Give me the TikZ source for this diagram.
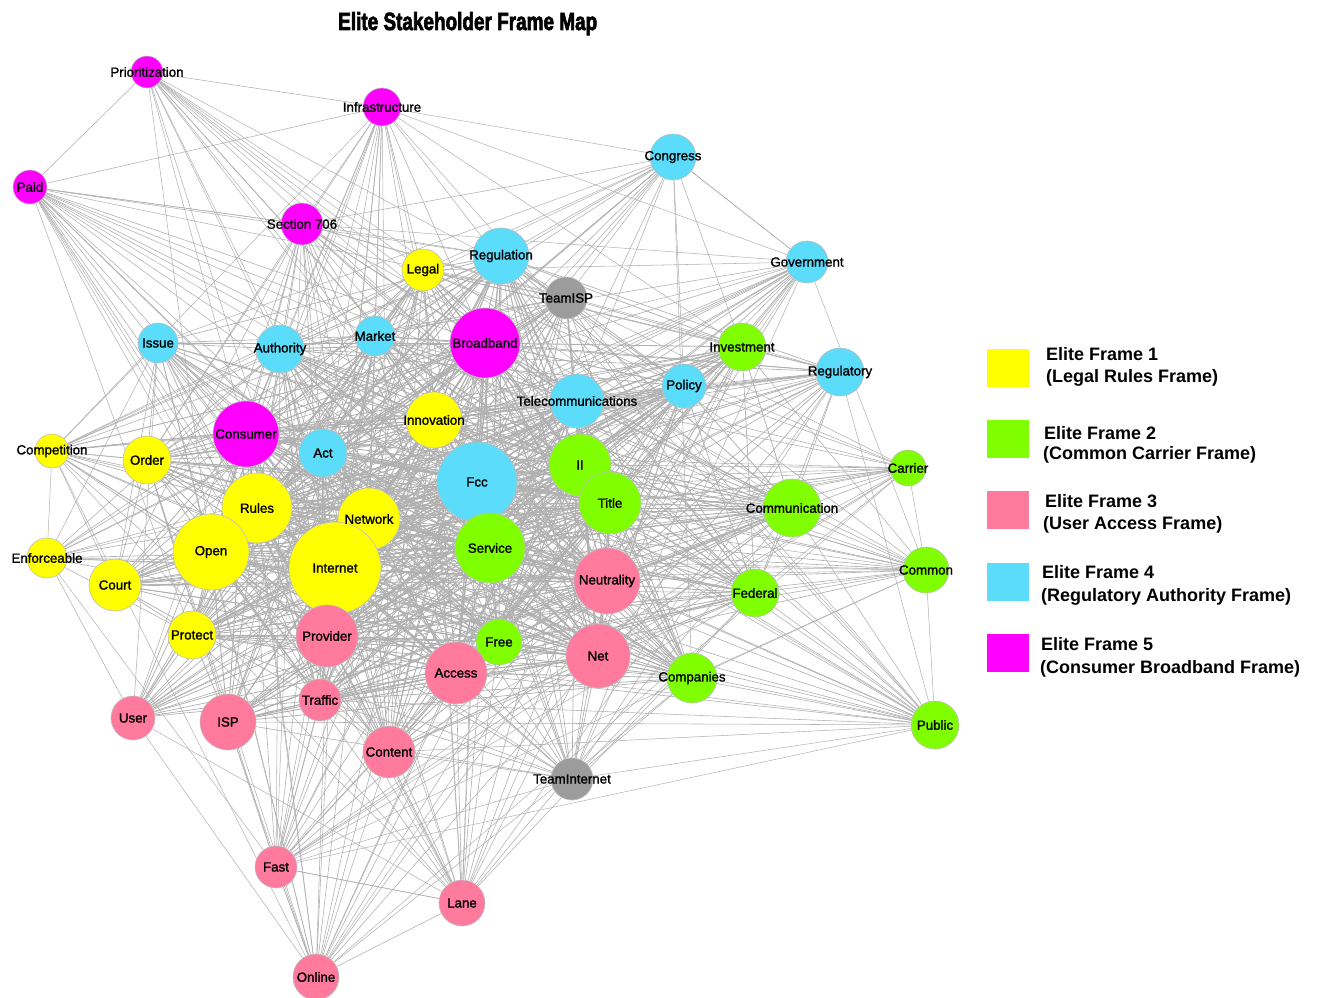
\documentclass[tikz,border=0pt]{standalone}
\usepackage{fontspec}
\setmainfont{Liberation Sans}
\newfontfamily\labfont{Liberation Sans}[FakeBold=1.4]
\newfontfamily\titlefont{Liberation Sans}[BoldFeatures={FakeBold=3}]
\usetikzlibrary{backgrounds}
\definecolor{fy}{HTML}{FFFF00}
\definecolor{fg}{HTML}{80FF00}
\definecolor{fp}{HTML}{FF7A9C}
\definecolor{fc}{HTML}{5BDCFA}
\definecolor{fm}{HTML}{FF00FF}
\definecolor{fgray}{HTML}{9C9C9C}
\definecolor{edgec}{RGB}{176,176,176}
\definecolor{rimc}{RGB}{190,190,190}
\tikzset{
  vertex/.style={circle, draw=rimc, line width=0.6pt, inner sep=0pt},
  vlabel/.style={font=\labfont\fontsize{13.3}{14}\selectfont, inner sep=0pt, text=black},
  edge/.style={draw=edgec, line width=0.55pt},
  legbox/.style={rectangle, inner sep=0pt, minimum width=42pt, minimum height=38pt, anchor=north west},
  legtext/.style={font=\bfseries\fontsize{18}{20}\selectfont, inner sep=0pt, anchor=base west}
}
\begin{document}
\begin{tikzpicture}[x=1pt,y=-1pt]
\useasboundingbox (0,0) rectangle (1318,998);
% vertices
\foreach \i/\x/\y/\r/\c in {
 1/147/72/16/fm, 2/382/107/19/fm, 3/30/187/17/fm, 4/302/224/21/fm,
 5/673/157/23/fc, 6/807/262/21/fc, 7/423/270/21/fy, 8/501/256/28/fc,
 9/566/298/21/fgray, 10/158/343/20/fc, 11/280/349/24/fc, 12/375/336/20/fc,
 13/485/343/35/fm, 14/742/347/24/fg, 15/840/372/24/fc, 16/684/386/22/fc,
 17/577/401/27/fc, 18/434/420/28/fy, 19/246/434/33/fm, 20/323/453/24/fc,
 21/52/451/17/fy, 22/147/460/24/fy, 23/477/482/40/fc, 24/580/465/31/fg,
 25/610/503/31/fg, 26/908/468/18/fg, 27/792/508/29/fg, 28/257/508/35/fy,
 29/369/519/31/fy, 30/490/548/35/fg, 31/211/552/38/fy, 32/335/568/46/fy,
 33/47/558/20/fy, 34/115/585/26/fy, 35/607/581/33/fp, 36/926/570/23/fg,
 37/755/593/24/fg, 38/192/635/24/fy, 39/327/636/31/fp, 40/499/642/23/fg,
 41/598/656/32/fp, 42/456/673/31/fp, 43/692/678/25/fg, 44/320/700/21/fp,
 45/133/718/22/fp, 46/228/722/28/fp, 47/935/725/24/fg, 48/389/752/26/fp,
 49/572/779/21/fgray, 50/276/867/21/fp, 51/462/903/23/fp, 52/316/977/23/fp}
{
  \node[vertex, fill=\c, minimum size=2*\r pt] (n\i) at (\x,\y) {};
}
% labels
\foreach \i/\t in {
 1/Prioritization, 2/Infrastructure, 3/Paid, 4/Section 706, 5/Congress,
 6/Government, 7/Legal, 8/Regulation, 9/TeamISP, 10/Issue, 11/Authority,
 12/Market, 13/Broadband, 14/Investment, 15/Regulatory, 16/Policy,
 17/Telecommunications, 18/Innovation, 19/Consumer, 20/Act, 21/Competition,
 22/Order, 23/Fcc, 24/II, 25/Title, 26/Carrier, 27/Communication, 28/Rules,
 29/Network, 30/Service, 31/Open, 32/Internet, 33/Enforceable, 34/Court,
 35/Neutrality, 36/Common, 37/Federal, 38/Protect, 39/Provider, 40/Free,
 41/Net, 42/Access, 43/Companies, 44/Traffic, 45/User, 46/ISP, 47/Public,
 48/Content, 49/TeamInternet, 50/Fast, 51/Lane, 52/Online}
{
  \node[vlabel] (l\i) at (n\i) {\t};
}
% edges
\def\Wlist{{0,0.45,0.55,0.55,0.65,0.55,0.62,0.8,0.9,0.8,0.72,0.87,0.87,1,0.82,0.72,0.87,0.95,0.97,0.97,0.95,0.62,0.82,1,1,1,0.58,0.87,1,1,1,1,1,0.62,0.77,1,0.62,0.82,0.87,1,0.95,1,1,0.82,0.9,0.72,0.87,0.58,0.82,0.67,0.58,0.58,0.55}}
\begin{pgfonlayer}{background}
\fill[white] (0,0) rectangle (1318,998);
\foreach \i in {1,...,51}{
  \pgfmathtruncatemacro\ii{\i+1}
  \foreach \j in {\ii,...,52}{
    \pgfmathsetmacro\ww{\Wlist[\i]*\Wlist[\j]}
    \pgfmathsetmacro\hh{mod(mod(\i*\j,53)*37+\i*71+\j*113+mod(\i*\i,29)*11,100)/100}
    \pgfmathtruncatemacro\ok{\hh<\ww*0.98 ? 1 : 0}
    \pgfmathsetmacro\lw{0.45+0.75*\ww*\ww*\ww}
    \ifnum\ok=1 \draw[edge, line width=\lw pt] (n\i) -- (n\j); \fi
  }
}
\draw[edge] (n1) -- (n3);
\draw[edge] (n1) -- (n2);
\draw[edge] (n3) -- (n2);
\draw[edge] (n3) -- (n4);
\draw[edge] (n5) -- (n6);
\draw[edge] (n5) -- (n4);
\draw[edge] (n50) -- (n51);
\draw[edge] (n50) -- (n52);
\draw[edge] (n51) -- (n52);
\end{pgfonlayer}
% title
\node[inner sep=0pt, anchor=base west] (title) at (338,30)
  {\resizebox{259pt}{18pt}{\titlefont\bfseries Elite Stakeholder Frame Map}};
% legend
\node[legbox, fill=fy] (s1) at (987,349) {};
\node[legbox, fill=fg] (s2) at (987,420) {};
\node[legbox, fill=fp] (s3) at (987,491) {};
\node[legbox, fill=fc] (s4) at (987,563) {};
\node[legbox, fill=fm] (s5) at (987,634) {};
\node[legtext] (t1a) at (1046,360) {Elite Frame 1};
\node[legtext] (t1b) at (1046,382) {(Legal Rules Frame)};
\node[legtext] (t2a) at (1044,439) {Elite Frame 2};
\node[legtext] (t2b) at (1043,459) {(Common Carrier Frame)};
\node[legtext] (t3a) at (1045,507) {Elite Frame 3};
\node[legtext] (t3b) at (1043,529) {(User Access Frame)};
\node[legtext] (t4a) at (1042,578) {Elite Frame 4};
\node[legtext] (t4b) at (1041,601) {(Regulatory Authority Frame)};
\node[legtext] (t5a) at (1041,650) {Elite Frame 5};
\node[legtext] (t5b) at (1040,673) {(Consumer Broadband Frame)};
\end{tikzpicture}
\end{document}
